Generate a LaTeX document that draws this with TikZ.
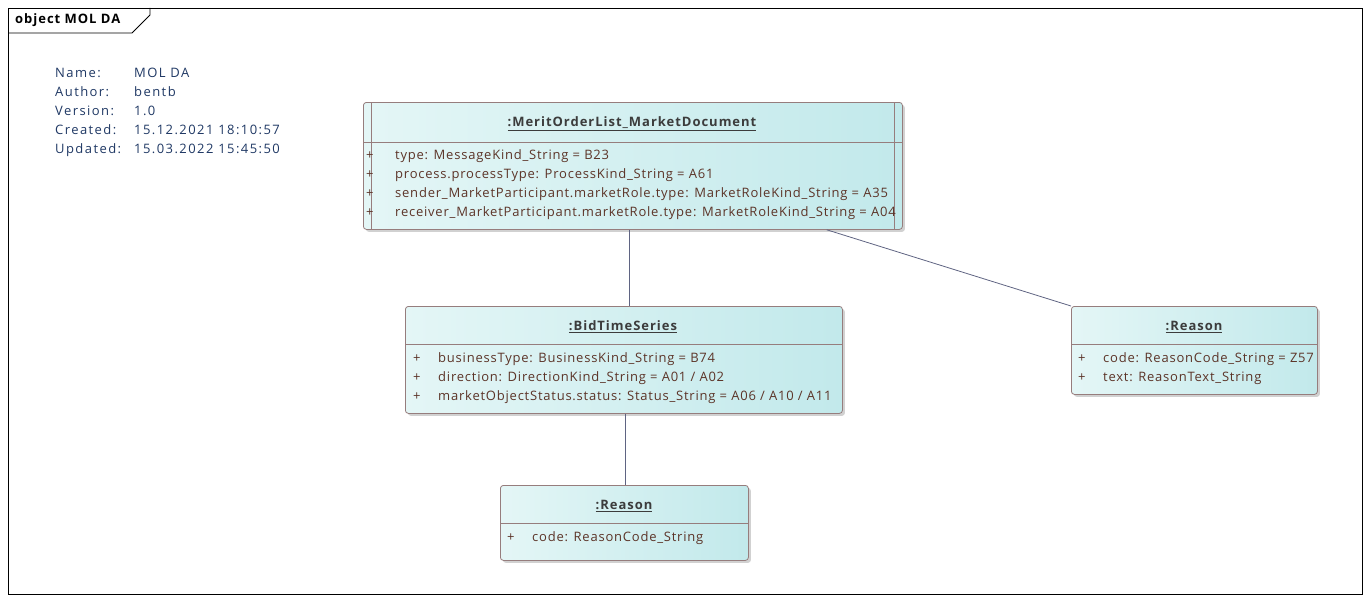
\documentclass[tikz,border=0pt]{standalone}
\usepackage{fontspec}
\setmainfont{Open Sans}[LetterSpace=6]
\usetikzlibrary{positioning,shadows}
\definecolor{metablue}{RGB}{31,56,100}
\definecolor{boxborder}{RGB}{150,125,125}
\definecolor{boxleft}{RGB}{228,246,246}
\definecolor{boxright}{RGB}{194,233,235}
\definecolor{attrtext}{RGB}{92,52,40}
\definecolor{titletext}{RGB}{60,60,60}
\definecolor{linkcol}{RGB}{95,100,130}
\tikzset{attrs/.style={anchor=base west, inner sep=0pt, text=attrtext, font=\fontsize{13}{19}\selectfont}}

\begin{document}
\begin{tikzpicture}[
    x=1pt, y=-1pt,
    link/.style={draw=linkcol, line width=0.8pt},
    objbox/.style={
        draw=boxborder,
        line width=0.8pt,
        rounded corners=3pt,
        left color=boxleft,
        right color=boxright,
        anchor=north west,
        inner sep=0pt,
        drop shadow={shadow xshift=2.5pt, shadow yshift=-2.5pt, fill=black!30, opacity=.6}
    },
    sep/.style={draw=boxborder, line width=0.8pt},
    objtitle/.style={
        inner sep=0pt,
        text=titletext,
        font=\fontsize{13}{14}\selectfont\bfseries\addfontfeatures{LetterSpace=7.5}
    }
]
\useasboundingbox (0,0) rectangle (1370,602);
% Diagram frame
\draw[line width=0.8pt] (8,8) rectangle (1362,594);
\draw[line width=0.8pt] (8,33) -- (132,33) -- (150,15) -- (150,8);
\node[anchor=west, inner sep=0pt, font=\fontsize{13}{14}\selectfont\bfseries\addfontfeatures{LetterSpace=7.5}] (frametitle) at (15,20.5) {object MOL DA};
% Diagram properties
\node[anchor=base west, inner sep=0pt, text=metablue, font=\fontsize{13}{19}\selectfont\addfontfeatures{LetterSpace=11}] (meta) at (55,77.5) {%
  \begin{tabular}[t]{@{}p{79pt}@{}l@{}}
  Name: & MOL DA\\
  Author: & bentb\\
  Version: & 1.0\\
  Created: & 15.12.2021 18:10:57\\
  Updated: & 15.03.2022 15:45:50
  \end{tabular}};
% Objects
\node[objbox, minimum width=539pt, minimum height=127pt] (mold) at (363,102) {};
\node[objbox, minimum width=437pt, minimum height=107pt] (bts) at (405,306) {};
\node[objbox, minimum width=246pt, minimum height=88pt] (rsnA) at (1071,306) {};
\node[objbox, minimum width=248pt, minimum height=75pt] (rsnB) at (500,485) {};
% Compartment lines
\draw[sep] ([yshift=-40pt]mold.north west) -- ([yshift=-40pt]mold.north east);
\draw[sep] ([xshift=8pt]mold.north west) -- ([xshift=8pt]mold.south west);
\draw[sep] ([xshift=-8pt]mold.north east) -- ([xshift=-8pt]mold.south east);
\draw[sep] ([yshift=-38pt]bts.north west) -- ([yshift=-38pt]bts.north east);
\draw[sep] ([yshift=-38pt]rsnA.north west) -- ([yshift=-38pt]rsnA.north east);
\draw[sep] ([yshift=-38pt]rsnB.north west) -- ([yshift=-38pt]rsnB.north east);
% Titles
\node[objtitle] (moldtitle) at (632,124) {\underline{:MeritOrderList\_MarketDocument}};
\node[objtitle] (btstitle) at (623,327) {\underline{:BidTimeSeries}};
\node[objtitle] (rsnAtitle) at (1194,327) {\underline{:Reason}};
\node[objtitle] (rsnBtitle) at (624,506) {\underline{:Reason}};
% Attributes
\node[attrs] (moldattr) at (366,159.5) {%
  \begin{tabular}[t]{@{}p{29pt}@{}l@{}}
  + & type: MessageKind\_String = B23\\
  + & process.processType: ProcessKind\_String = A61\\
  + & sender\_MarketParticipant.marketRole.type: MarketRoleKind\_String = A35\\
  + & receiver\_MarketParticipant.marketRole.type: MarketRoleKind\_String = A04
  \end{tabular}};
\node[attrs] (btsattr) at (413,362.5) {%
  \begin{tabular}[t]{@{}p{25pt}@{}l@{}}
  + & businessType: BusinessKind\_String = B74\\
  + & direction: DirectionKind\_String = A01 / A02\\
  + & marketObjectStatus.status: Status\_String = A06 / A10 / A11
  \end{tabular}};
\node[attrs] (rsnAattr) at (1078,362.5) {%
  \begin{tabular}[t]{@{}p{25pt}@{}l@{}}
  + & code: ReasonCode\_String = Z57\\
  + & text: ReasonText\_String
  \end{tabular}};
\node[attrs] (rsnBattr) at (507,541.5) {%
  \begin{tabular}[t]{@{}p{25pt}@{}l@{}}
  + & code: ReasonCode\_String
  \end{tabular}};
% Links
\draw[link] ([xshift=-3.5pt]mold.south) -- ([xshift=-3.5pt]mold.south |- bts.north);
\draw[link] ([xshift=-76pt]mold.south east) -- (rsnA.north west);
\draw[link] ([xshift=1.5pt]bts.south) -- ([xshift=1.5pt]bts.south |- rsnB.north);
\end{tikzpicture}
\end{document}
